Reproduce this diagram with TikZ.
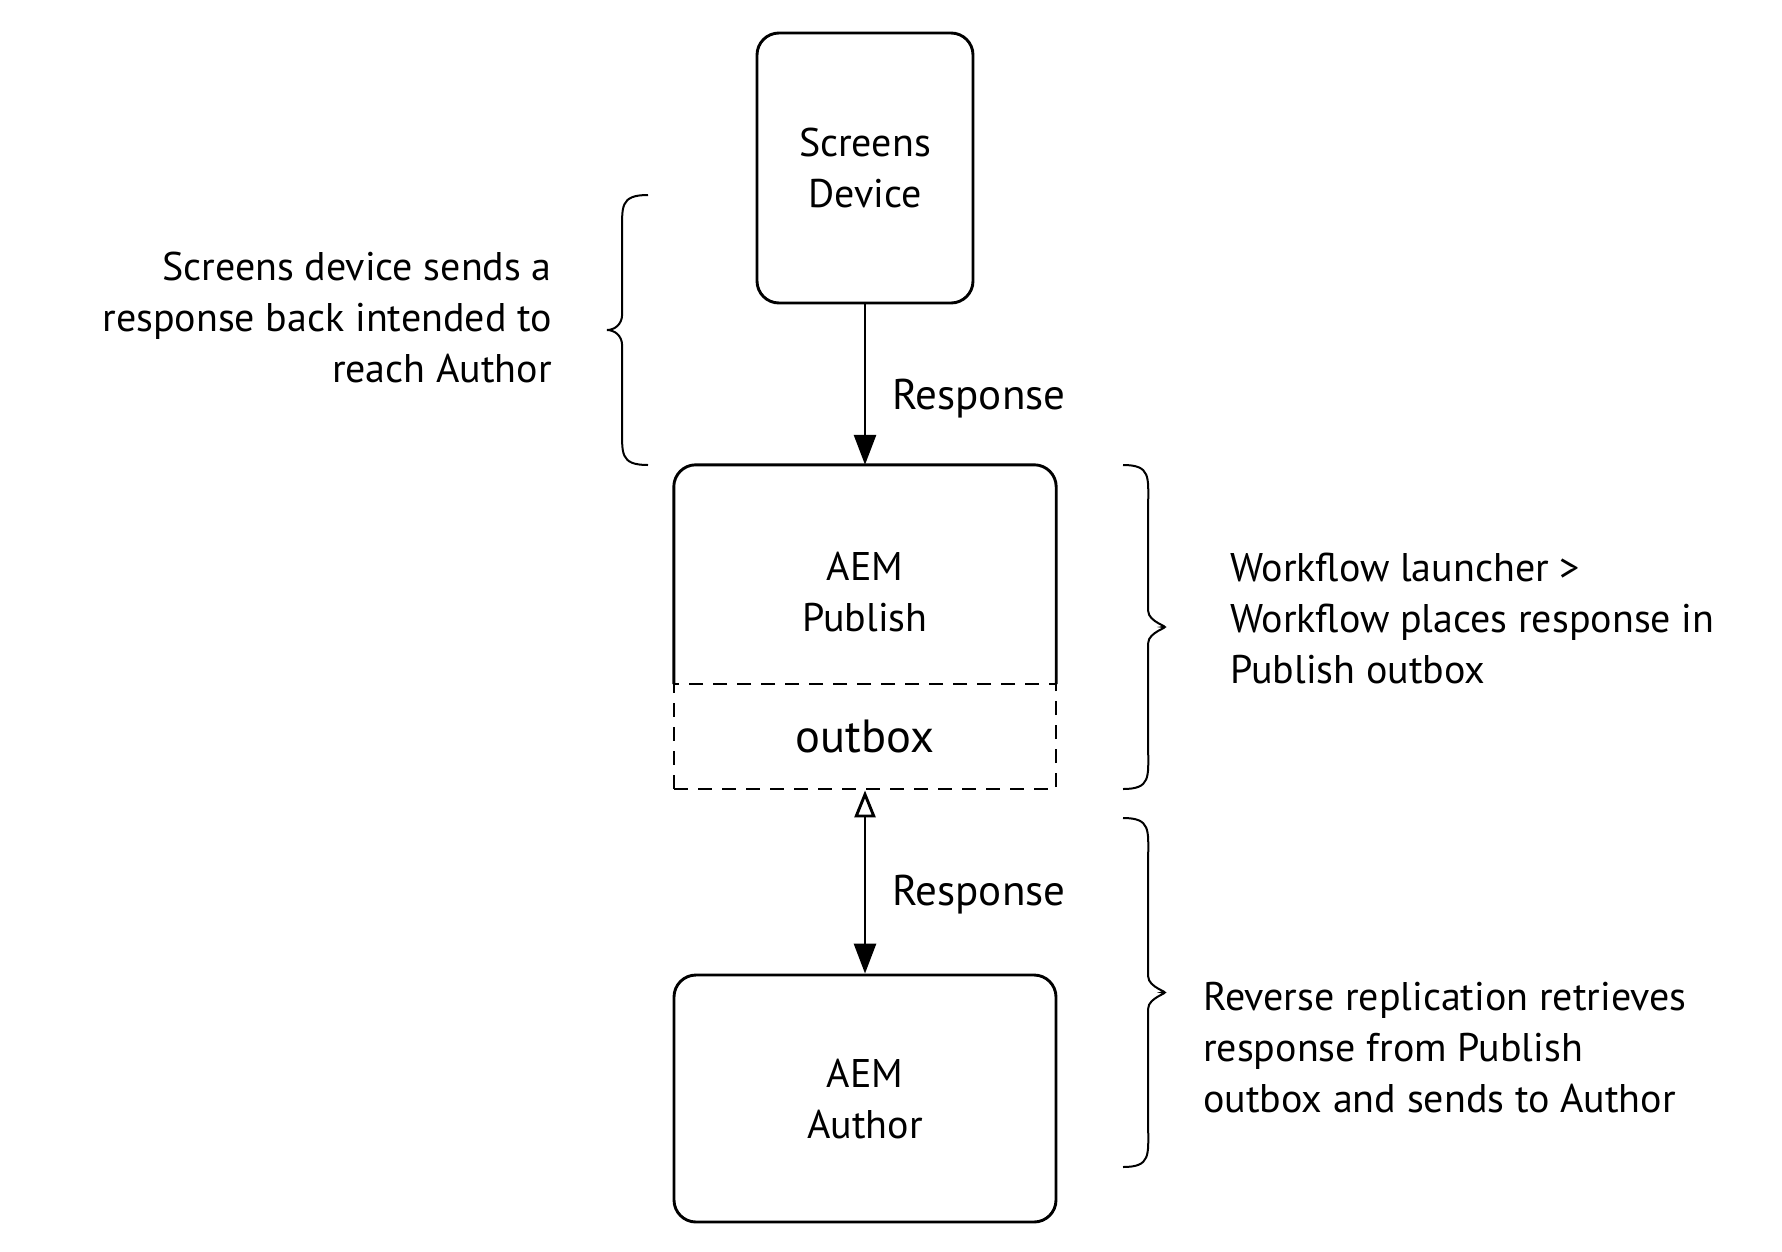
\documentclass[tikz,border=0pt]{standalone}
\usepackage{fontspec}
\setmainfont{PT Sans}
\usetikzlibrary{arrows.meta}
\newcommand\BraceOpenLeft[4]{% x_end, x_tip, y_top, y_bottom
  \draw[brc] (#1,#3) .. controls ({#1-0.7*(#1-#2)},#3) and ({#1-0.63*(#1-#2)},{#3+12}) .. ({#1-0.63*(#1-#2)},{#3+40})
    -- ({#1-0.63*(#1-#2)},{(#3+#4)/2-16}) .. controls ({#1-0.63*(#1-#2)},{(#3+#4)/2-5}) and ({#2+7},{(#3+#4)/2}) .. (#2,{(#3+#4)/2})
    .. controls ({#2+7},{(#3+#4)/2}) and ({#1-0.63*(#1-#2)},{(#3+#4)/2+5}) .. ({#1-0.63*(#1-#2)},{(#3+#4)/2+16})
    -- ({#1-0.63*(#1-#2)},{#4-40}) .. controls ({#1-0.63*(#1-#2)},{#4-12}) and ({#1-0.7*(#1-#2)},#4) .. (#1,#4);}
\begin{document}
\begin{tikzpicture}[x=1pt,y=-1pt,
  txt/.style={font=\fontsize{40}{51}\selectfont, inner sep=0pt},
  lbl/.style={font=\fontsize{43}{51}\selectfont, inner sep=0pt},
  boxst/.style={draw, line width=2.9pt, rounded corners=22pt},
  conn/.style={line width=2.9pt},
  brc/.style={line width=2pt},
  dashst/.style={draw, line width=2.9pt, dash pattern=on 14pt off 10pt}]
\fill[white] (0,0) rectangle (1782,1251);
\useasboundingbox (0,0) rectangle (1782,1251);

% boxes
\node[boxst, txt, align=center, minimum width=216pt, minimum height=270pt] (dev) at (865,168) {Screens\\Device};
\node[inner sep=0pt, minimum width=382pt, minimum height=219pt] (pub) at (865,574.5) {};
\draw[conn, rounded corners=22pt] (pub.south west) -- (pub.north west) -- (pub.north east) -- (pub.south east);
\node[txt, align=center] (publab) at (865,592) {AEM\\Publish};
\node[dashst, inner sep=0pt, minimum width=382pt, minimum height=105pt, font=\fontsize{46.5}{54}\selectfont] (outbox) at (865,736.5) {outbox};
\node[boxst, txt, align=center, minimum width=382pt, minimum height=247pt] (auth) at (865,1098.5) {AEM\\Author};

% connectors
\draw[conn, -{Triangle[length=30pt,width=22pt]}] (dev.south) -- (pub.north);
\draw[conn, {Triangle[open,length=27pt,width=21pt]}-{Triangle[length=30pt,width=22pt]}] (outbox.south) -- (auth.north);
\node[lbl, anchor=base west] (r1) at (892,409) {Response};
\node[lbl, anchor=base west] (r2) at (892,905) {Response};

% braces
\BraceOpenLeft{648}{607}{195}{465}
\BraceOpenLeft{1123}{1163}{465}{789}
\BraceOpenLeft{1123}{1163}{818}{1167}

% notes
\node[txt, align=right, anchor=east] (ltext) at (552,317) {Screens device sends a\\response back intended to\\reach Author};
\node[txt, align=left, anchor=west] (rtext1) at (1230,618.5) {Workflow launcher >\\Workflow places response in\\Publish outbox};
\node[txt, align=left, anchor=west] (rtext2) at (1203,1047.5) {Reverse replication retrieves\\response from Publish\\outbox and sends to Author};
\end{tikzpicture}
\end{document}
